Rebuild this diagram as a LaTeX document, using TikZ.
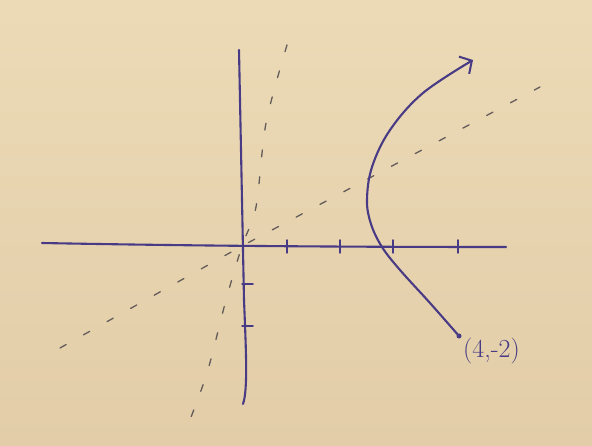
\documentclass[tikz,border=0pt]{standalone}
\usetikzlibrary{arrows.meta}
\definecolor{paper}{RGB}{236,218,182}
\definecolor{paperdark}{RGB}{226,205,168}
\definecolor{ink}{RGB}{72,58,132}
\definecolor{pencil}{RGB}{100,92,90}
\tikzset{
  axis/.style={draw=ink, line width=2.1pt, line cap=round},
  tickmark/.style={draw=ink, line width=1.5pt, line cap=round},
  asym/.style={draw=pencil, line width=1.3pt, dash pattern=on 7pt off 20pt, line cap=round},
  branch/.style={draw=ink, line width=2.1pt, line cap=round},
  lbl/.style={text=ink, font=\fontsize{26}{30}\selectfont, inner sep=1pt}
}
\begin{document}
\begin{tikzpicture}[x=1pt,y=-1pt]
\shade[top color=paper, bottom color=paperdark] (0,0) rectangle (592,446);
\useasboundingbox (0,0) rectangle (592,446);
% axes
\draw[axis] (42,243) .. controls (200,246) and (350,247) .. (506,247);
\draw[axis] (239,50) .. controls (241,150) and (243,250) .. (244,300)
  .. controls (246,350) and (248,390) .. (243,404);
% x ticks
\foreach \x in {287,340,393,458} \draw[tickmark] (\x,240) -- (\x,253);
% y ticks
\foreach \y in {284,326} \draw[tickmark] (242,\y) -- (253,\y);
% asymptotes
\draw[asym] (60,348) -- (242,246) -- (540,87);
\draw[asym] plot[smooth] coordinates {(287,45) (266,123) (256,207) (242,246) (226,300) (207,373) (186,430)};
% hyperbola branch
\coordinate (P) at (459,336);
\draw[branch, -{Straight Barb[length=9pt,width=20pt,line width=2pt]}] plot[smooth, tension=0.6] coordinates {(459,336) (430,303) (400,270) (382,247) (371,224) (367,200) (372,167) (390,130) (423,93) (473,60)};
\fill[ink] (P) circle (2.5pt);
\node[lbl, anchor=west] (L) at (462,351) {(4,-2)};
\end{tikzpicture}
\end{document}
